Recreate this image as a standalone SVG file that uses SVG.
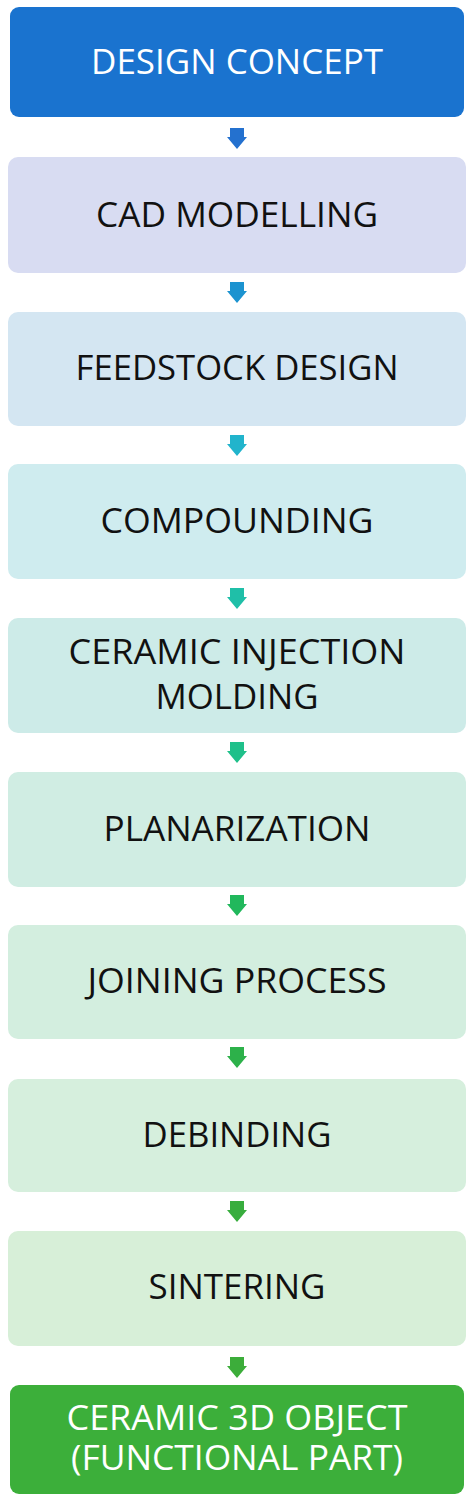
<svg xmlns="http://www.w3.org/2000/svg" width="474" height="1503" viewBox="0 0 474 1503">
<style>
.box{stroke:none}
.t{font-family:"Open Sans","Liberation Sans",sans-serif;font-size:35px;text-anchor:middle;fill:#111}
.w{fill:#ffffff}
</style>
<rect width="474" height="1503" fill="#ffffff"/>
<g id="connectors">
<path d="M230,128 h14 v9 h3 l-10,12 l-10,-12 h3 z" fill="#2471cf"/>
<path d="M230,282 h14 v9 h3 l-10,12 l-10,-12 h3 z" fill="#1c93d0"/>
<path d="M230,435 h14 v9 h3 l-10,12 l-10,-12 h3 z" fill="#21b4cc"/>
<path d="M230,588 h14 v9 h3 l-10,12 l-10,-12 h3 z" fill="#1fbfa8"/>
<path d="M230,742 h14 v9 h3 l-10,12 l-10,-12 h3 z" fill="#1fc08a"/>
<path d="M230,895 h14 v9 h3 l-10,12 l-10,-12 h3 z" fill="#21b85c"/>
<path d="M230,1047 h14 v9 h3 l-10,12 l-10,-12 h3 z" fill="#2db14a"/>
<path d="M230,1201 h14 v9 h3 l-10,12 l-10,-12 h3 z" fill="#38ad3e"/>
<path d="M230,1357 h14 v9 h3 l-10,12 l-10,-12 h3 z" fill="#3cad3a"/>
</g>
<g id="n1"><rect class="box" x="10" y="7" width="454" height="110" rx="9" fill="#1a73cf"/><text class="t w" x="237" y="74" textLength="292" lengthAdjust="spacingAndGlyphs">DESIGN CONCEPT</text></g>
<g id="n2"><rect class="box" x="8" y="157" width="458" height="116" rx="10" fill="#d8dcf2"/><text class="t" x="237" y="227" textLength="282" lengthAdjust="spacingAndGlyphs">CAD MODELLING</text></g>
<g id="n3"><rect class="box" x="8" y="312" width="458" height="114" rx="10" fill="#d4e6f2"/><text class="t" x="237" y="380" textLength="323" lengthAdjust="spacingAndGlyphs">FEEDSTOCK DESIGN</text></g>
<g id="n4"><rect class="box" x="8" y="464" width="458" height="115" rx="10" fill="#cfecef"/><text class="t" x="237" y="533" textLength="273" lengthAdjust="spacingAndGlyphs">COMPOUNDING</text></g>
<g id="n5"><rect class="box" x="8" y="618" width="458" height="115" rx="10" fill="#cdebe8"/><text class="t" x="237" y="664" textLength="337" lengthAdjust="spacingAndGlyphs">CERAMIC INJECTION</text><text class="t" x="237" y="709" textLength="163" lengthAdjust="spacingAndGlyphs">MOLDING</text></g>
<g id="n6"><rect class="box" x="8" y="772" width="458" height="115" rx="10" fill="#d0ede3"/><text class="t" x="237" y="841" textLength="267" lengthAdjust="spacingAndGlyphs">PLANARIZATION</text></g>
<g id="n7"><rect class="box" x="8" y="925" width="458" height="114" rx="10" fill="#d3eedf"/><text class="t" x="237" y="993" textLength="299" lengthAdjust="spacingAndGlyphs">JOINING PROCESS</text></g>
<g id="n8"><rect class="box" x="8" y="1079" width="458" height="113" rx="10" fill="#d6efdd"/><text class="t" x="237" y="1147" textLength="189" lengthAdjust="spacingAndGlyphs">DEBINDING</text></g>
<g id="n9"><rect class="box" x="8" y="1231" width="458" height="115" rx="10" fill="#d7efd8"/><text class="t" x="237" y="1299" textLength="177" lengthAdjust="spacingAndGlyphs">SINTERING</text></g>
<g id="n10"><rect class="box" x="10" y="1385" width="454" height="109" rx="9" fill="#3caf3a"/><text class="t w" x="237" y="1430" textLength="341" lengthAdjust="spacingAndGlyphs">CERAMIC 3D OBJECT</text><text class="t w" x="237" y="1470" textLength="332" lengthAdjust="spacingAndGlyphs">(FUNCTIONAL PART)</text></g>
</svg>
